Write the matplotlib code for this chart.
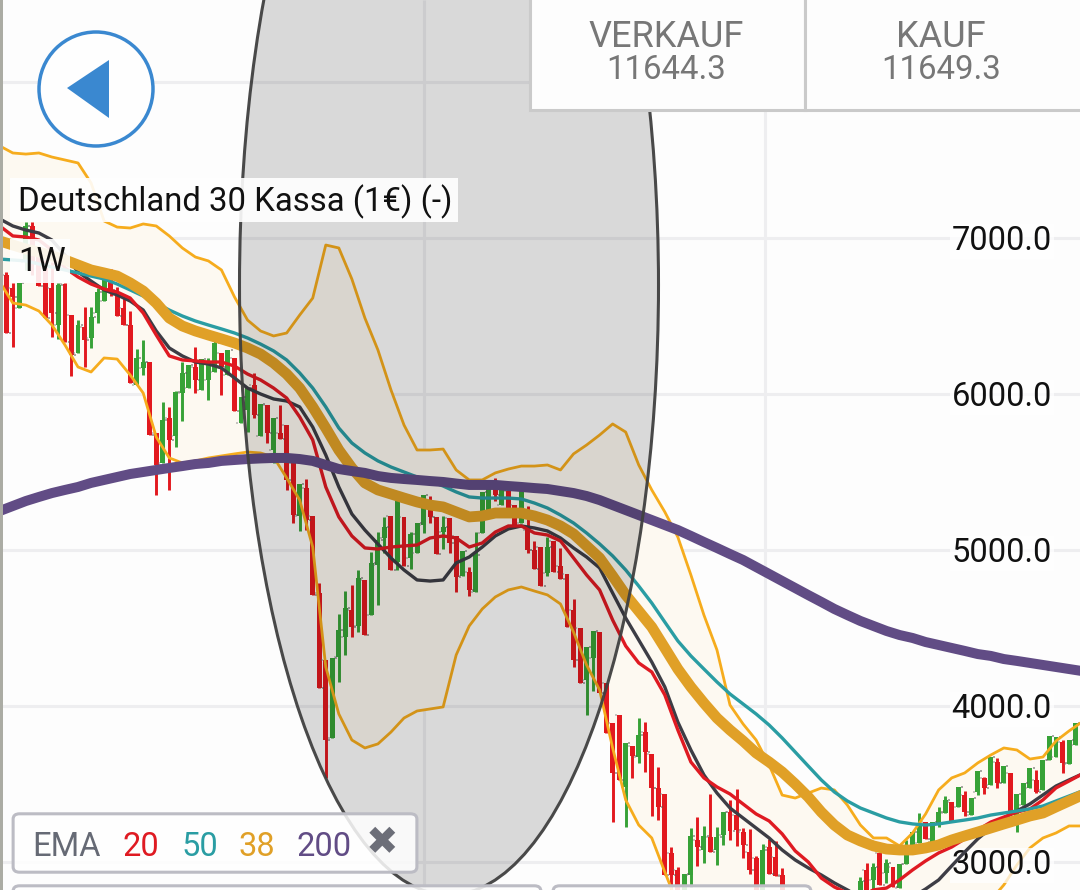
import matplotlib
matplotlib.use('Agg')
import matplotlib.pyplot as plt
import numpy as np
from matplotlib.patches import Ellipse, FancyBboxPatch, Polygon, Rectangle

plt.rcParams['font.family'] = ['Roboto', 'DejaVu Sans']

# --------------------------------------------------------------------------------
# WEEKLY BARS
# --------------------------------------------------------------------------------
highs = [6782, 6711, 6711, 7102, 7102, 6923, 6859, 6846, 6711, 6711,
         6506, 6474, 6558, 6558, 6679, 6795, 6801, 6686, 6615, 6532,
         6288, 6346, 6205, 5750, 5949, 5917, 6019, 6205, 6186, 6301,
         6224, 6231, 6340, 6263, 6282, 6231, 5981, 6038, 6135, 5936,
         5929, 5846, 5929, 5801, 5558, 5423, 5455, 5218, 4788, 4295,
         4308, 4590, 4737, 4776, 4872, 4808, 4987, 5115, 5212, 5218,
         5314, 5212, 5115, 5173, 5352, 5346, 5212, 5218, 5205, 5090,
         4994, 4891, 5115, 5372, 5397, 5462, 5385, 5378, 5288, 5378,
         5282, 5058, 5019, 5083, 5058, 5013, 4846, 4686, 4500, 4378,
         4481, 4474, 4148, 3891, 3942, 3763, 3744, 3923, 3897, 3692,
         3609, 3436, 3096, 2968, 2923, 3218, 3288, 3231, 3436, 3224,
         3320, 3397, 3468, 3218, 3212, 3039, 3115, 3148, 3135, 2962,
         2780, 2720, 2760, 2700, 2650, 2620, 2570, 2640, 2720, 2760,
         2790, 2904, 2994, 2994, 3058, 3019, 2968, 2987, 3141, 3192,
         3314, 3256, 3256, 3353, 3423, 3385, 3481, 3455, 3410, 3583,
         3545, 3673, 3667, 3615, 3571, 3436, 3506, 3603, 3590, 3654,
         3808, 3801, 3782, 3782, 3891]
lows = [6391, 6301, 6551, 6795, 6763, 6692, 6487, 6365, 6352, 6333,
        6115, 6263, 6173, 6295, 6455, 6596, 6628, 6500, 6442, 6070,
        6058, 6122, 5737, 5352, 5558, 5385, 5660, 5827, 6038, 6006,
        6026, 5961, 6141, 5993, 6122, 5891, 5814, 5756, 5846, 5731,
        5686, 5558, 5711, 5385, 5173, 5122, 5128, 4712, 4115, 3538,
        3795, 4154, 4327, 4442, 4474, 4455, 4583, 4647, 4981, 4872,
        4872, 4897, 4878, 4981, 5109, 5173, 4974, 5006, 4981, 4731,
        4833, 4705, 4731, 5109, 5237, 5314, 5288, 5263, 5147, 5173,
        4981, 4878, 4769, 4833, 4859, 4814, 4506, 4250, 4148, 3942,
        4096, 4083, 3827, 3256, 3526, 3224, 3538, 3635, 3577, 3295,
        3269, 2917, 2725, 2660, 2725, 2840, 2974, 2994, 3064, 2981,
        3109, 3141, 3103, 3026, 2923, 2756, 2756, 2923, 2910, 2756,
        2500, 2450, 2480, 2420, 2380, 2340, 2320, 2410, 2480, 2520,
        2580, 2720, 2760, 2788, 2853, 2865, 2840, 2833, 2987, 3103,
        3122, 3148, 3128, 3224, 3314, 3256, 3352, 3295, 3301, 3429,
        3436, 3494, 3474, 3506, 3320, 3192, 3365, 3474, 3442, 3462,
        3654, 3673, 3571, 3628, 3750]
opens = [6763, 6679, 6551, 6846, 7077, 6891, 6808, 6679, 6442, 6705,
         6506, 6263, 6429, 6359, 6519, 6596, 6782, 6634, 6551, 6442,
         6058, 6167, 6205, 5750, 5558, 5846, 5731, 6006, 6038, 6173,
         6026, 6090, 6141, 6263, 6122, 6231, 5814, 5897, 6058, 5731,
         5929, 5641, 5750, 5801, 5558, 5218, 5397, 5218, 4724, 4295,
         3795, 4314, 4442, 4615, 4513, 4808, 4583, 4904, 5077, 5218,
         4923, 5212, 4949, 4981, 5160, 5269, 5212, 5115, 5205, 5090,
         4833, 4859, 4731, 5109, 5237, 5397, 5288, 5378, 5288, 5173,
         5128, 5000, 5019, 4853, 5058, 4897, 4846, 4615, 4500, 4167,
         4308, 4474, 4148, 3891, 3942, 3481, 3744, 3673, 3833, 3692,
         3474, 3436, 3058, 2949, 2725, 2917, 3141, 3077, 3160, 3077,
         3173, 3320, 3301, 3192, 3064, 3026, 2788, 3096, 3032, 2917,
         2740, 2500, 2720, 2660, 2420, 2580, 2370, 2450, 2680, 2560,
         2620, 2730, 2950, 2885, 3058, 2930, 2968, 2833, 2987, 3103,
         3122, 3256, 3128, 3237, 3314, 3385, 3352, 3430, 3301, 3449,
         3538, 3494, 3641, 3506, 3571, 3282, 3365, 3474, 3526, 3462,
         3654, 3673, 3769, 3628, 3750]
closes = [6391, 6622, 6711, 7077, 6846, 6692, 6487, 6519, 6698, 6333,
          6250, 6442, 6346, 6494, 6654, 6782, 6667, 6500, 6442, 6070,
          6231, 6205, 5737, 5545, 5833, 5705, 6013, 6135, 6186, 6090,
          6224, 6199, 6327, 6173, 6282, 5891, 5981, 6038, 5865, 5936,
          5750, 5846, 5711, 5449, 5224, 5423, 5192, 4712, 4115, 3782,
          4308, 4487, 4628, 4506, 4820, 4455, 4917, 5064, 5148, 4872,
          5314, 4897, 5103, 5173, 5352, 5212, 4974, 5148, 5045, 4827,
          4994, 4744, 4968, 5372, 5397, 5352, 5385, 5263, 5147, 5378,
          5000, 4878, 4769, 5019, 4859, 4814, 4506, 4295, 4148, 4378,
          4481, 4083, 3827, 3571, 3526, 3763, 3679, 3814, 3705, 3474,
          3352, 2917, 2917, 2756, 2923, 3167, 3096, 3167, 3064, 3160,
          3320, 3199, 3205, 3109, 2949, 2788, 3077, 2923, 2910, 2788,
          2540, 2690, 2530, 2470, 2600, 2400, 2530, 2610, 2520, 2730,
          2770, 2880, 2790, 2968, 2853, 2994, 2840, 2987, 3096, 3192,
          3237, 3148, 3256, 3320, 3398, 3256, 3481, 3320, 3410, 3583,
          3474, 3673, 3506, 3615, 3320, 3436, 3506, 3603, 3449, 3654,
          3808, 3801, 3635, 3782, 3891]

# --------------------------------------------------------------------------------
# EMA AND BAND LINES, read every 2 weeks
# --------------------------------------------------------------------------------
line_weeks = list(range(-1, 168, 2))

ema200 = [5250, 5282, 5314, 5340, 5365, 5385, 5404, 5430, 5449, 5468,
          5487, 5500, 5513, 5526, 5538, 5551, 5558, 5571, 5577, 5583,
          5587, 5590, 5590, 5583, 5571, 5545, 5519, 5506, 5494, 5474,
          5462, 5455, 5449, 5442, 5436, 5426, 5417, 5417, 5417, 5410,
          5404, 5397, 5391, 5378, 5365, 5346, 5320, 5288, 5256, 5224,
          5192, 5160, 5128, 5090, 5051, 5013, 4974, 4936, 4891, 4846,
          4801, 4756, 4711, 4667, 4622, 4583, 4545, 4513, 4481, 4455,
          4436, 4410, 4391, 4372, 4353, 4333, 4321, 4301, 4289, 4276,
          4263, 4250, 4237, 4224, 4218]
ema50 = [6865, 6859, 6853, 6833, 6814, 6795, 6776, 6756, 6737, 6705,
         6667, 6628, 6583, 6538, 6500, 6468, 6442, 6417, 6391, 6359,
         6320, 6276, 6218, 6135, 6038, 5917, 5782, 5686, 5622, 5571,
         5532, 5500, 5468, 5442, 5410, 5372, 5340, 5333, 5333, 5333,
         5327, 5301, 5269, 5224, 5173, 5109, 5039, 4962, 4872, 4769,
         4660, 4538, 4417, 4321, 4237, 4154, 4077, 4013, 3949, 3878,
         3795, 3705, 3615, 3526, 3449, 3391, 3346, 3314, 3282, 3257,
         3244, 3237, 3244, 3257, 3269, 3282, 3301, 3314, 3327, 3340,
         3359, 3391, 3423, 3455, 3487]
ema38 = [6981, 6955, 6929, 6910, 6885, 6859, 6827, 6795, 6776, 6756,
         6712, 6660, 6583, 6487, 6436, 6404, 6378, 6353, 6327, 6295,
         6256, 6199, 6128, 6038, 5917, 5782, 5641, 5526, 5430, 5385,
         5359, 5333, 5308, 5288, 5276, 5244, 5212, 5218, 5237, 5237,
         5237, 5218, 5192, 5154, 5103, 5026, 4949, 4833, 4712, 4609,
         4506, 4372, 4237, 4122, 4019, 3923, 3846, 3776, 3699, 3641,
         3577, 3500, 3417, 3320, 3237, 3173, 3135, 3103, 3083, 3077,
         3077, 3090, 3109, 3141, 3167, 3192, 3218, 3244, 3269, 3295,
         3314, 3353, 3391, 3429, 3462]
ema_black = [7122, 7077, 7051, 7032, 6987, 6891, 6782, 6724, 6667, 6635,
             6596, 6538, 6404, 6295, 6244, 6205, 6192, 6167, 6103, 6038,
             6000, 5968, 5955, 5917, 5788, 5609, 5404, 5231, 5128, 5038,
             4949, 4872, 4808, 4801, 4808, 4917, 4955, 5019, 5090, 5135,
             5154, 5141, 5122, 5077, 5013, 4955, 4885, 4724, 4564, 4423,
             4282, 4122, 3897, 3718, 3558, 3442, 3346, 3282, 3218, 3154,
             3077, 3013, 2962, 2917, 2866, 2821, 2776, 2737, 2718, 2724,
             2776, 2827, 2885, 2975, 3064, 3148, 3218, 3282, 3327, 3372,
             3430, 3487, 3526, 3564, 3603]
ema20 = [7077, 7013, 7006, 6987, 6923, 6808, 6750, 6705, 6673, 6654,
         6615, 6519, 6378, 6244, 6218, 6212, 6205, 6205, 6179, 6128,
         6090, 6038, 5974, 5853, 5705, 5404, 5212, 5090, 5013, 5006,
         5019, 5026, 5032, 5077, 5090, 5077, 5019, 5045, 5115, 5154,
         5154, 5109, 5096, 5058, 4949, 4840, 4744, 4551, 4385, 4276,
         4218, 4071, 3846, 3641, 3539, 3481, 3436, 3372, 3308, 3263,
         3180, 3071, 3000, 2897, 2840, 2801, 2782, 2821, 2833, 2885,
         2949, 3007, 3058, 3096, 3148, 3205, 3256, 3288, 3320, 3340,
         3398, 3475, 3519, 3564, 3609]
band_upper = [7590, 7545, 7538, 7545, 7519, 7500, 7481, 7353, 7109, 7070,
              7064, 7090, 7077, 7013, 6936, 6878, 6853, 6795, 6622, 6474,
              6404, 6372, 6391, 6506, 6615, 6955, 6936, 6737, 6487, 6282,
              6026, 5801, 5641, 5641, 5647, 5513, 5449, 5449, 5494, 5519,
              5538, 5538, 5545, 5513, 5616, 5673, 5737, 5808, 5756, 5545,
              5385, 5244, 5083, 4840, 4583, 4359, 4006, 3885, 3782, 3622,
              3429, 3410, 3442, 3474, 3462, 3365, 3237, 3154, 3154, 3103,
              3186, 3308, 3462, 3539, 3571, 3635, 3686, 3731, 3718, 3660,
              3673, 3776, 3840, 3898, 3942]
band_lower = [6718, 6583, 6570, 6532, 6442, 6314, 6173, 6141, 6231, 6224,
              6122, 6006, 5724, 5590, 5558, 5571, 5590, 5603, 5616, 5628,
              5622, 5596, 5462, 5320, 5019, 4250, 3949, 3782, 3731, 3757,
              3833, 3923, 3968, 3981, 3994, 4327, 4513, 4622, 4699, 4744,
              4763, 4737, 4712, 4654, 4474, 4263, 4103, 3731, 3398, 3237,
              3154, 2936, 2724, 2564, 2436, 2340, 2276, 2212, 2180, 2180,
              2212, 2212, 2212, 2212, 2244, 2276, 2276, 2308, 2340, 2340,
              2372, 2404, 2468, 2532, 2596, 2692, 2756, 2853, 2981, 3090,
              3154, 3186, 3231, 3231, 3231]

y_ticks = [3000, 4000, 5000, 6000, 7000]
y_tick_labels = ['3000.0', '4000.0', '5000.0', '6000.0', '7000.0']
grid_prices = [3000, 4000, 5000, 6000, 7000, 8000]
grid_weeks = [64.06, 116.4]

W, H = 1080, 890


def fx(px):
    return px / W


def fy(py):
    return 1 - py / H


fig = plt.figure(figsize=(W / 100, H / 100), dpi=100)
ax = fig.add_axes([0, 0, 1, 1], facecolor='#fdfdfd')
ax.set_xlim(-0.966, 164.68)
ax.set_ylim(2820.5, 8525.6)
for s in ax.spines.values():
    s.set_visible(False)

# grid
ax.hlines(grid_prices, -0.966, 164.68, color='#eeeef0', lw=2.2, zorder=0.5)
ax.vlines(grid_weeks, 2820.5, 8525.6, color='#eeeef0', lw=2.2, zorder=0.5)

# band
ax.fill_between(line_weeks, band_lower, band_upper, color='#fdf9f1', lw=0, zorder=0.6)

# bars
weeks = np.arange(len(closes))
opens_a, closes_a = np.array(opens), np.array(closes)
bar_colors = np.where(closes_a >= opens_a, '#37a237', '#e2191f')
ax.vlines(weeks, lows, highs, colors=bar_colors, lw=2.1, zorder=1)
ax.bar(weeks, np.abs(closes_a - opens_a), bottom=np.minimum(opens_a, closes_a),
       width=0.76, color=bar_colors, lw=0, zorder=1.1)
ax.scatter(weeks + 0.55, closes, s=3, marker='s', color='#555555', alpha=0.5, lw=0, zorder=1.2)
ax.scatter(weeks - 0.55, opens, s=3, marker='s', color='#777777', alpha=0.4, lw=0, zorder=1.2)

# lines
line_style = dict(solid_joinstyle='round', solid_capstyle='round')
ax.plot(line_weeks, band_upper, color='#f6ac1d', lw=2.0, zorder=1.5, **line_style)
ax.plot(line_weeks, band_lower, color='#f6ac1d', lw=2.0, zorder=1.5, **line_style)
ax.plot(line_weeks, ema_black, color='#3d3d45', lw=2.4, zorder=1.6, **line_style)
ax.plot(line_weeks, ema20, color='#df1a22', lw=2.4, zorder=1.7, **line_style)
ax.plot(line_weeks, ema50, color='#2a9da3', lw=2.4, zorder=1.8, **line_style)
ax.plot(line_weeks, ema38, color='#e0a027', lw=7.8, zorder=1.9, **line_style)
ax.plot(line_weeks, ema200, color='#614c85', lw=7.2, zorder=2.0, **line_style)

# big ellipse drawing
ax.add_patch(Ellipse((fx(449), fy(285)), 419 / W, 1220 / H, transform=ax.transAxes,
                     facecolor=(0, 0, 0, 0.14), edgecolor=(0.25, 0.25, 0.25, 0.95),
                     lw=2.2, zorder=2.3))

# price labels
ax.yaxis.tick_right()
ax.set_yticks(y_ticks, y_tick_labels)
ax.set_xticks([])
ax.tick_params(axis='y', length=0, pad=-92.5, labelsize=23.5, labelcolor='#111111')
for lab in ax.get_yticklabels():
    lab.set_bbox(dict(facecolor='white', alpha=0.75, edgecolor='none', pad=1.5))

# left strip
ax.add_patch(Rectangle((0, 0), 3 / W, 1, transform=ax.transAxes, color='#abaca4', lw=0, zorder=3))

# back button
ax.add_patch(Ellipse((fx(96), fy(89)), 114 / W, 114 / H, transform=ax.transAxes,
                     facecolor='#fefefe', edgecolor='#3a88d0', lw=2.5, zorder=4))
ax.add_patch(Polygon([(fx(67), fy(88)), (fx(109), fy(60)), (fx(109), fy(118))],
                     transform=ax.transAxes, color='#3a88d0', lw=0, zorder=4.1))

# buy / sell boxes
for x0, x1 in [(530, 805), (805, 1085)]:
    ax.add_patch(Rectangle((fx(x0), fy(110)), (x1 - x0) / W, 116 / H, transform=ax.transAxes,
                           facecolor='#fdfdfd', edgecolor='#cacaca', lw=2.2, zorder=4,
                           clip_on=True))
for cx, head, val in [(666, 'VERKAUF', '11644.3'), (941, 'KAUF', '11649.3')]:
    ax.text(fx(cx), fy(37), head, transform=ax.transAxes, ha='center', va='center',
            fontsize=26, color='#777777', zorder=5)
    ax.text(fx(cx), fy(70), val, transform=ax.transAxes, ha='center', va='center',
            fontsize=23.8, color='#777777', zorder=5)

# instrument labels
ax.text(fx(18), fy(202), 'Deutschland 30 Kassa (1€) (-)', transform=ax.transAxes,
        ha='left', va='center', fontsize=23.7, color='#111111', zorder=5)
ax.add_patch(Rectangle((fx(10), fy(222)), 448 / W, 44 / H, transform=ax.transAxes,
                       facecolor='white', alpha=0.9, lw=0, zorder=4.5))
ax.text(fx(18), fy(262), '1W', transform=ax.transAxes,
        ha='left', va='center', fontsize=23.7, color='#111111', zorder=5)
ax.add_patch(Rectangle((fx(10), fy(283)), 60 / W, 44 / H, transform=ax.transAxes,
                       facecolor='white', alpha=0.9, lw=0, zorder=4.5))

# EMA legend box and the two boxes below it
ax.add_patch(FancyBboxPatch((fx(17), fy(869)), 396 / W, 52 / H,
                            boxstyle='round,pad=0.0036,rounding_size=0.006',
                            transform=ax.transAxes, facecolor=(1, 1, 1, 0.85),
                            edgecolor='#bcbcc4', lw=2.2, zorder=4))
for x0, x1 in [(17, 537), (557, 807)]:
    ax.add_patch(FancyBboxPatch((fx(x0), fy(905)), (x1 - x0) / W, 16 / H,
                                boxstyle='round,pad=0.0036,rounding_size=0.006',
                                transform=ax.transAxes, facecolor=(1, 1, 1, 0.85),
                                edgecolor='#bcbcc4', lw=2.2, zorder=4))
for x, t, c in [(32, 'EMA', '#666a75'), (122, '20', '#df1a22'), (181, '50', '#2a9da3'),
                (238, '38', '#e0a027'), (296, '200', '#614c85')]:
    ax.text(fx(x), fy(847), t, transform=ax.transAxes, ha='left', va='center',
            fontsize=23.5, color=c, zorder=5)
ax.text(fx(382), fy(844), '✖', transform=ax.transAxes, ha='center', va='center',
        fontsize=28, color='#6c6e78', zorder=5)

fig.savefig('out.png', dpi=100)
